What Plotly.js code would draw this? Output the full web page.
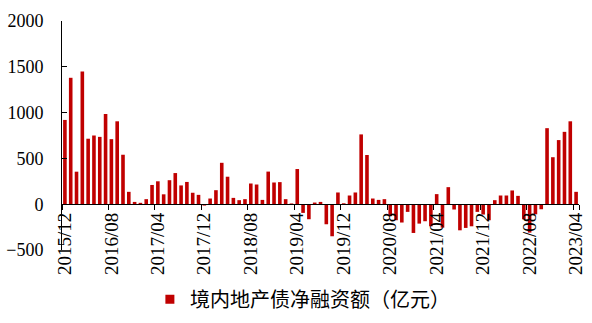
<!DOCTYPE html>
<html>
<head>
<meta charset="utf-8">
<script src="https://cdn.plot.ly/plotly-3.0.1.min.js"></script>
<style>html,body{margin:0;padding:0;background:#fff;}#chart{width:592px;height:323px;}</style>
</head>
<body>
<div id="chart"></div>
<script>
var months = [
 "2015/12",
 "2016/01","2016/02","2016/03","2016/04","2016/05","2016/06","2016/07","2016/08","2016/09","2016/10","2016/11","2016/12",
 "2017/01","2017/02","2017/03","2017/04","2017/05","2017/06","2017/07","2017/08","2017/09","2017/10","2017/11","2017/12",
 "2018/01","2018/02","2018/03","2018/04","2018/05","2018/06","2018/07","2018/08","2018/09","2018/10","2018/11","2018/12",
 "2019/01","2019/02","2019/03","2019/04","2019/05","2019/06","2019/07","2019/08","2019/09","2019/10","2019/11","2019/12",
 "2020/01","2020/02","2020/03","2020/04","2020/05","2020/06","2020/07","2020/08","2020/09","2020/10","2020/11","2020/12",
 "2021/01","2021/02","2021/03","2021/04","2021/05","2021/06","2021/07","2021/08","2021/09","2021/10","2021/11","2021/12",
 "2022/01","2022/02","2022/03","2022/04","2022/05","2022/06","2022/07","2022/08","2022/09","2022/10","2022/11","2022/12",
 "2023/01","2023/02","2023/03","2023/04"
];
var netFinancing = [
 920,
 1380, 355, 1450, 715, 750, 735, 985, 710, 905, 540, 135, 25,
 15, 55, 210, 250, 108, 262, 340, 205, 243, 125, 102, -15,
 62, 153, 452, 300, 69, 44, 55, 226, 215, 47, 356, 237,
 241, 55, 8, 384, -95, -164, 18, 25, -219, -350, 128, 10,
 95, 128, 762, 537, 62, 47, 55, -131, -175, -200, -84, -314,
 -212, -186, -241, 110, -256, 186, -58, -285, -259, -241, -84, -113,
 -175, 44, 95, 95, 150, 91, -165, -310, -110, -55, 830, 513,
 700, 790, 905, 135
];
var tickLabels = ["2015/12","2016/08","2017/04","2017/12","2018/08","2019/04","2019/12","2020/08","2021/04","2021/12","2022/08","2023/04"];
var seriesName = "境内地产债净融资额（亿元）";
var yTicks = [-500, 0, 500, 1000, 1500, 2000];

var barColor = "#C00000";
var serif = "Liberation Serif, Times New Roman, serif";

var traces = [
 {type: "bar", x: months, y: netFinancing, marker: {color: barColor}, showlegend: false, hoverinfo: "x+y"},
 {type: "scatter", mode: "markers", x: [null], y: [null], name: seriesName,
  marker: {symbol: "square", size: 9, color: barColor}, showlegend: true}
];

var layout = {
 width: 592, height: 323,
 margin: {l: 62, r: 13, t: 21, b: 73, autoexpand: false},
 paper_bgcolor: "#fff", plot_bgcolor: "#fff",
 bargap: 0.38,
 xaxis: {
  type: "category",
  anchor: "free", position: 0.2,
  tickmode: "array", tickvals: tickLabels, ticktext: tickLabels,
  tickson: "boundaries",
  ticks: "outside", ticklen: 5, tickcolor: "#000", tickwidth: 1,
  tickangle: -90,
  tickfont: {family: serif, size: 19, color: "#000"},
  showline: true, linecolor: "#000", linewidth: 1,
  showgrid: false, zeroline: false
 },
 yaxis: {
  range: [-500, 2000],
  tickmode: "array", tickvals: yTicks,
  ticks: "inside", ticklen: 5, tickcolor: "#000", tickwidth: 1,
  ticklabelstandoff: 14,
  tickfont: {family: serif, size: 18, color: "#000"},
  showline: true, linecolor: "#000", linewidth: 1,
  showgrid: false, zeroline: false
 },
 legend: {
  orientation: "h", x: 0.17, xanchor: "left", y: -0.215, yanchor: "middle",
  font: {family: "Noto Sans CJK SC, sans-serif", size: 20, color: "#000"},
  bgcolor: "rgba(0,0,0,0)"
 },
 showlegend: true
};

Plotly.newPlot("chart", traces, layout, {displayModeBar: false, staticPlot: true});
</script>
</body>
</html>
